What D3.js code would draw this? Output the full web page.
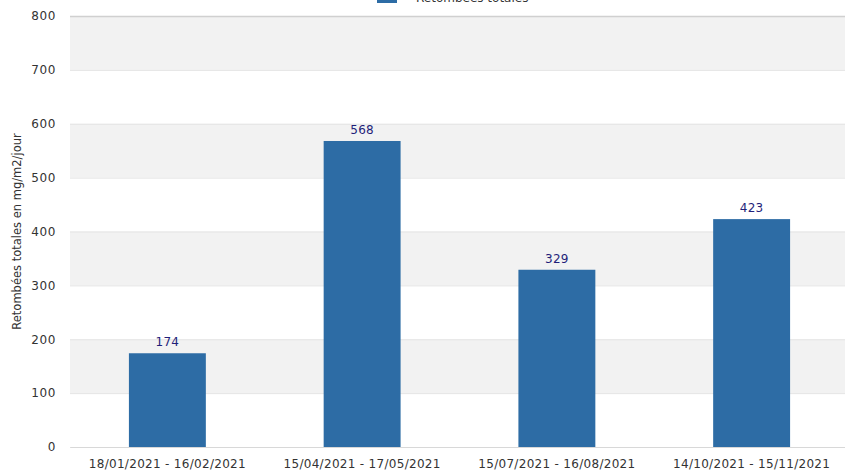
<!DOCTYPE html>
<html><head><meta charset="utf-8">
<script src="https://cdn.jsdelivr.net/npm/d3@7"></script>
<style>body{margin:0;background:#fff}svg{display:block}</style>
</head><body><svg id="c" width="845" height="473"></svg>
<script>
const categories = ["18/01/2021 - 16/02/2021","15/04/2021 - 17/05/2021","15/07/2021 - 16/08/2021","14/10/2021 - 15/11/2021"];
const values = [174, 568, 329, 423];
const yTicks = [0,100,200,300,400,500,600,700,800];
const seriesName = "Retombées totales";
const yTitle = "Retombées totales en mg/m2/jour";

const svg = d3.select("#c");
const font = "DejaVu Sans, Verdana, sans-serif";
const L = 70, R = 849, T = 16, B = 447;
const x = d3.scaleBand().domain(categories).range([L, R]).paddingInner(0.605).paddingOuter(0.3025);
const y = d3.scaleLinear().domain([0, 800]).range([B, T]);

// bands
for (let i = 0; i < yTicks.length - 1; i++) {
  if (i % 2 === 1) {
    svg.append("rect").attr("x", L).attr("width", 845 - L)
      .attr("y", y(yTicks[i+1])).attr("height", y(yTicks[i]) - y(yTicks[i+1]))
      .attr("fill", "#f2f2f2");
  }
}
// grid
svg.append("g").selectAll("line").data(yTicks).join("line")
  .attr("x1", L).attr("x2", 845).attr("y1", d => y(d)+0.5).attr("y2", d => y(d)+0.5)
  .attr("stroke", d => d===800 ? "#d0d0d0" : "#e4e4e4").attr("stroke-width", d => d===800?1.5:1);

// y axis
const ya = svg.append("g").attr("transform", `translate(${L},0)`)
  .call(d3.axisLeft(y).tickValues(yTicks).tickSize(0).tickPadding(14));
ya.select(".domain").remove();
ya.selectAll("text").attr("font-family", font).attr("font-size", 12).attr("letter-spacing", 0.6).attr("fill", "#333");

// x axis
const xa = svg.append("g").attr("transform", `translate(0,${B})`)
  .call(d3.axisBottom(x).tickSize(0).tickPadding(12));
xa.select(".domain").attr("stroke", "#d8d8d8");
xa.selectAll("text").attr("font-family", font).attr("font-size", 12).attr("letter-spacing", 0.3).attr("fill", "#333");

// bars
svg.append("g").selectAll("rect").data(values).join("rect")
  .attr("x", (d,i) => x(categories[i])).attr("width", x.bandwidth())
  .attr("y", d => y(d)).attr("height", d => B - y(d))
  .attr("fill", "#2d6ca5");
svg.append("g").selectAll("text").data(values).join("text")
  .attr("x", (d,i) => x(categories[i]) + x.bandwidth()/2).attr("y", d => y(d) - 7)
  .attr("text-anchor", "middle").attr("font-family", font).attr("font-size", 12)
  .attr("letter-spacing", 0.3)
  .attr("fill", "#1f1f7a").text(d => d);

// y title
svg.append("text").attr("transform", `translate(21,${(T+B)/2}) rotate(-90)`)
  .attr("text-anchor", "middle").attr("font-family", font).attr("font-size", 11.5)
  .attr("fill", "#333").text(yTitle);

// legend (cut off at top)
svg.append("rect").attr("x", 377).attr("y", -6).attr("width", 20).attr("height", 9).attr("fill", "#2d6ca5");
svg.append("text").attr("x", 416).attr("y", 2).attr("font-family", font).attr("font-size", 12)
  .attr("fill", "#333").text(seriesName);
</script></body></html>
